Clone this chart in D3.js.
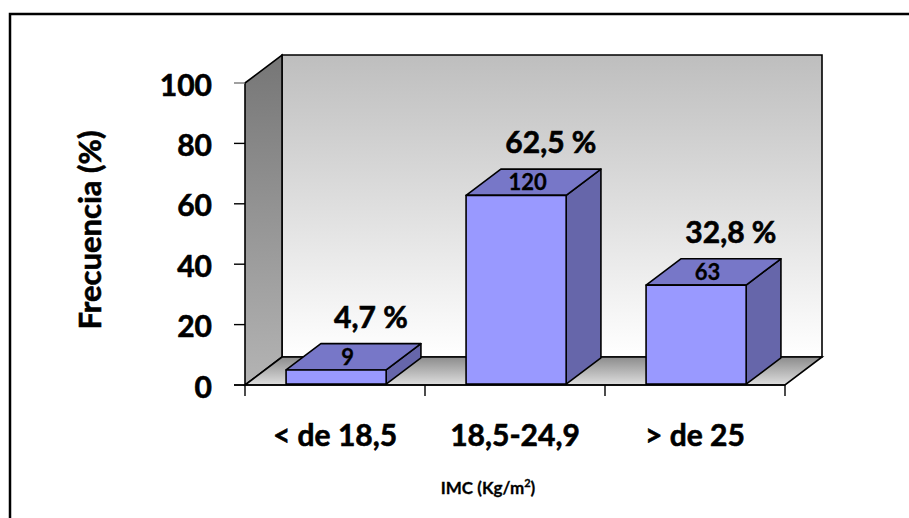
<!DOCTYPE html>
<html>
<head>
<meta charset="utf-8">
<script src="https://cdn.jsdelivr.net/npm/d3@7"></script>
<style>
  html, body { margin: 0; padding: 0; background: #fff; }
  svg { display: block; }
  text { font-family: Lato, "Open Sans", "DejaVu Sans", sans-serif; font-weight: 700; fill: #000;
         stroke: #000; stroke-width: 0.6px; paint-order: stroke; }
  text.small { stroke-width: 0.3px; }
</style>
</head>
<body>
<svg id="chart" width="909" height="518"></svg>
<script>
// BMI groups, counts of subjects and share of the sample (%)
const categories = ["< de 18,5", "18,5-24,9", "> de 25"];
const counts = [9, 120, 63];
const percents = [4.7, 62.5, 32.8];
const percentLabels = ["4,7 %", "62,5 %", "32,8 %"];
const yTicks = [0, 20, 40, 60, 80, 100];

(function () {
const svg = d3.select("#chart");
const defs = svg.append("defs");

// Plot geometry (front plane of the 3D box) and depth offset
const plotLeft = 245, plotRight = 785, plotBottom = 385, plotTop = 83;
const depth = { x: 37, y: -28 };

const x = d3.scaleBand().domain(categories).range([plotLeft, plotRight])
  .paddingInner(0.444).paddingOuter(0.222);
const y = d3.scaleLinear().domain([0, 100]).range([plotBottom, plotTop]);

function grad(id, stops) {
  const g = defs.append("linearGradient").attr("id", id)
    .attr("x1", 0).attr("y1", 0).attr("x2", 0).attr("y2", 1);
  stops.forEach(s => g.append("stop").attr("offset", s[0]).attr("stop-color", s[1]));
}
grad("backWall", [[0, "#bebebe"], [1, "#ffffff"]]);
grad("sideWall", [[0, "#767676"], [1, "#b4b4b4"]]);
grad("floor", [[0, "#8c8c8c"], [1, "#dedede"]]);

const pts = a => a.map(p => p.join(",")).join(" ");

// Outer frame
svg.append("rect").attr("x", 10).attr("y", 14).attr("width", 1000).attr("height", 600)
  .attr("fill", "none").attr("stroke", "#000").attr("stroke-width", 2.5);

const y0 = y(0), y100 = y(100);
const L = plotLeft, R = plotRight;
// back wall
svg.append("polygon")
  .attr("points", pts([[L + depth.x, y100 + depth.y], [R + depth.x, y100 + depth.y],
                       [R + depth.x, y0 + depth.y], [L + depth.x, y0 + depth.y]]))
  .attr("fill", "url(#backWall)").attr("stroke", "#000").attr("stroke-width", 1.6);
// left wall
svg.append("polygon")
  .attr("points", pts([[L, y100], [L + depth.x, y100 + depth.y],
                       [L + depth.x, y0 + depth.y], [L, y0]]))
  .attr("fill", "url(#sideWall)").attr("stroke", "#000").attr("stroke-width", 1.6);
// floor
svg.append("polygon")
  .attr("points", pts([[L, y0], [L + depth.x, y0 + depth.y],
                       [R + depth.x, y0 + depth.y], [R, y0]]))
  .attr("fill", "url(#floor)").attr("stroke", "#000").attr("stroke-width", 1.6);

// Y axis: ticks and labels
const yAxis = svg.append("g");
yAxis.selectAll("line").data(yTicks).join("line")
  .attr("x1", L - 11).attr("x2", L)
  .attr("y1", d => y(d)).attr("y2", d => y(d))
  .attr("stroke", d => d === 100 ? "#777" : "#000").attr("stroke-width", 1.4);
yAxis.selectAll("text").data(yTicks).join("text")
  .attr("x", 212).attr("y", d => y(d) + 2).attr("dy", "0.35em")
  .attr("text-anchor", "end").attr("font-size", 30).text(d => d);

// X axis: baseline and category separators
const step = x.step();
const xTicks = d3.range(categories.length + 1).map(i => L + i * step);
svg.append("line").attr("x1", L - 11).attr("x2", R)
  .attr("y1", y0).attr("y2", y0).attr("stroke", "#000").attr("stroke-width", 1.4);
svg.selectAll("line.xtick").data(xTicks).join("line").attr("class", "xtick")
  .attr("x1", d => d).attr("x2", d => d).attr("y1", y0).attr("y2", y0 + 11)
  .attr("stroke", "#000").attr("stroke-width", 1.4);
svg.selectAll("text.cat").data(categories).join("text").attr("class", "cat")
  .attr("x", d => x(d) + x.bandwidth() / 2).attr("y", 446)
  .attr("text-anchor", "middle").attr("font-size", 30).text(d => d);

// 3D bars
const gap = 0.03, bd = 0.94;
const bars = categories.map((c, i) => {
  const x0 = x(c) + depth.x * gap, x1 = x0 + x.bandwidth();
  const yb = y0 + depth.y * gap, yt = y(percents[i]) + depth.y * gap;
  const dx = depth.x * bd, dy = depth.y * bd;
  return { c, i, x0, x1, yb, yt, dx, dy };
});
const bg = svg.append("g").attr("stroke", "#000").attr("stroke-width", 1.6)
  .attr("stroke-linejoin", "round");
bars.forEach(b => {
  bg.append("polygon")
    .attr("points", pts([[b.x1, b.yt], [b.x1 + b.dx, b.yt + b.dy], [b.x1 + b.dx, b.yb + b.dy], [b.x1, b.yb]]))
    .attr("fill", "#6666aa");
  bg.append("polygon")
    .attr("points", pts([[b.x0, b.yt], [b.x0 + b.dx, b.yt + b.dy], [b.x1 + b.dx, b.yt + b.dy], [b.x1, b.yt]]))
    .attr("fill", "#7777c8");
  bg.append("rect").attr("x", b.x0).attr("y", b.yt)
    .attr("width", b.x1 - b.x0).attr("height", b.yb - b.yt).attr("fill", "#9999ff");
});

// Counts on the top faces
svg.selectAll("text.count").data(bars).join("text").attr("class", "count small")
  .attr("x", b => (b.x0 + b.x1) / 2 + b.dx * 0.33)
  .attr("y", b => b.yt + b.dy / 2).attr("dy", "0.36em")
  .attr("text-anchor", "middle").attr("font-size", 22).text(b => counts[b.i]);

// Percentage labels above the bars
svg.selectAll("text.pct").data(bars).join("text").attr("class", "pct")
  .attr("x", b => (b.x0 + b.x1) / 2 + b.dx)
  .attr("y", b => b.yt + b.dy - 16)
  .attr("text-anchor", "middle").attr("font-size", 30).text(b => percentLabels[b.i]);

// Axis titles
svg.append("text").attr("transform", "translate(101,230) rotate(-90)")
  .attr("text-anchor", "middle").attr("font-size", 31).text("Frecuencia (%)");
const xt = svg.append("text").attr("class", "small").attr("x", 488).attr("y", 494)
  .attr("text-anchor", "middle").attr("font-size", 17);
xt.append("tspan").text("IMC (Kg/m");
xt.append("tspan").attr("font-size", 11).attr("dy", -7).text("2");
xt.append("tspan").attr("dy", 7).text(")");
})();
</script>
</body>
</html>
